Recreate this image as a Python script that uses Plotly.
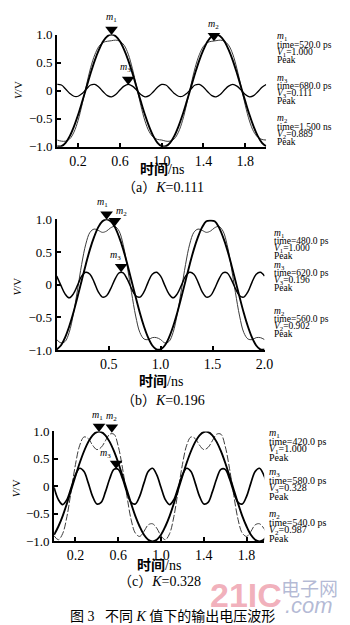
import plotly.graph_objects as go

# ---------------- data ----------------
time_ns = [0.00, 0.04, 0.08, 0.12, 0.16, 0.20, 0.24, 0.28, 0.32, 0.36, 0.40, 0.44, 0.48,
           0.52, 0.56, 0.60, 0.64, 0.68, 0.72, 0.76, 0.80, 0.84, 0.88, 0.92, 0.96, 1.00,
           1.04, 1.08, 1.12, 1.16, 1.20, 1.24, 1.28, 1.32, 1.36, 1.40, 1.44, 1.48, 1.52,
           1.56, 1.60, 1.64, 1.68, 1.72, 1.76, 1.80, 1.84, 1.88, 1.92, 1.96, 2.00]

# (a) K = 0.111
fund_a = [-0.99, -0.99, -0.93, -0.81, -0.64, -0.43, -0.19, 0.06, 0.31, 0.54, 0.73, 0.88, 0.97,
          1.00, 0.97, 0.88, 0.73, 0.54, 0.31, 0.06, -0.19, -0.43, -0.64, -0.81, -0.93,
          -0.99, -0.99, -0.93, -0.81, -0.64, -0.43, -0.19, 0.06, 0.31, 0.54, 0.73, 0.88, 0.97,
          1.00, 0.97, 0.88, 0.73, 0.54, 0.31, 0.06, -0.19, -0.43, -0.64, -0.81, -0.93, -0.99]
harm_a = [0.11, 0.10, 0.03, -0.05, -0.10, -0.10, -0.05, 0.03, 0.10, 0.11, 0.06, -0.02, -0.09,
          -0.11, -0.07, 0.01, 0.08, 0.11, 0.08, 0.01, -0.07, -0.11, -0.09, -0.02, 0.06,
          0.11, 0.10, 0.03, -0.05, -0.10, -0.10, -0.05, 0.03, 0.10, 0.11, 0.06, -0.02, -0.09,
          -0.11, -0.07, 0.01, 0.08, 0.11, 0.08, 0.01, -0.07, -0.11, -0.09, -0.02, 0.06, 0.11]
sum_a = [-0.88, -0.90, -0.90, -0.86, -0.74, -0.53, -0.23, 0.10, 0.41, 0.64, 0.79, 0.86, 0.88,
         0.89, 0.90, 0.88, 0.81, 0.65, 0.39, 0.07, -0.26, -0.54, -0.73, -0.83, -0.87,
         -0.88, -0.90, -0.90, -0.86, -0.74, -0.53, -0.23, 0.10, 0.41, 0.64, 0.79, 0.86, 0.88,
         0.89, 0.90, 0.88, 0.81, 0.65, 0.39, 0.07, -0.26, -0.54, -0.73, -0.83, -0.87, -0.88]
mk_time_a = [0.52, 1.50, 0.68]
mk_val_a = [1.000, 0.889, 0.111]

# (b) K = 0.196
fund_b = [-0.99, -0.93, -0.81, -0.64, -0.43, -0.19, 0.06, 0.31, 0.54, 0.73, 0.88, 0.97, 1.00,
          0.97, 0.88, 0.73, 0.54, 0.31, 0.06, -0.19, -0.43, -0.64, -0.81, -0.93, -0.99,
          -0.99, -0.93, -0.81, -0.64, -0.43, -0.19, 0.06, 0.31, 0.54, 0.73, 0.88, 0.97, 0.98,
          0.97, 0.88, 0.73, 0.54, 0.31, 0.06, -0.19, -0.43, -0.64, -0.81, -0.93, -0.99, -0.99]
harm_b = [0.13, -0.01, -0.14, -0.20, -0.14, -0.01, 0.13, 0.19, 0.16, 0.04, -0.11, -0.19, -0.17,
          -0.06, 0.08, 0.18, 0.18, 0.08, -0.06, -0.17, -0.19, -0.11, 0.04, 0.16, 0.19,
          0.13, -0.01, -0.14, -0.20, -0.14, -0.01, 0.13, 0.19, 0.16, 0.04, -0.11, -0.19, -0.17,
          -0.06, 0.08, 0.18, 0.18, 0.08, -0.06, -0.17, -0.19, -0.11, 0.04, 0.16, 0.19, 0.13]
sum_b = [-0.84, -0.89, -0.87, -0.73, -0.45, -0.08, 0.31, 0.62, 0.80, 0.85, 0.83, 0.80, 0.82,
         0.87, 0.89, 0.82, 0.61, 0.27, -0.12, -0.48, -0.73, -0.83, -0.84, -0.81, -0.81,
         -0.84, -0.89, -0.87, -0.73, -0.45, -0.08, 0.31, 0.62, 0.80, 0.85, 0.83, 0.80, 0.82,
         0.87, 0.89, 0.82, 0.61, 0.27, -0.12, -0.48, -0.73, -0.83, -0.84, -0.81, -0.81, -0.84]
mk_time_b = [0.48, 0.56, 0.62]
mk_val_b = [1.000, 0.902, 0.196]

# (c) K = 0.328
fund_c = [-0.88, -0.73, -0.54, -0.31, -0.06, 0.19, 0.43, 0.64, 0.81, 0.93, 0.99, 0.99, 0.93,
          0.81, 0.64, 0.43, 0.19, -0.06, -0.31, -0.54, -0.73, -0.88, -0.97, -1.00, -0.97,
          -0.88, -0.73, -0.54, -0.31, -0.06, 0.19, 0.43, 0.64, 0.81, 0.93, 0.99, 0.99, 0.93,
          0.81, 0.64, 0.43, 0.19, -0.06, -0.31, -0.54, -0.73, -0.88, -0.97, -1.00, -0.97, -0.88]
harm_c = [-0.02, -0.24, -0.33, -0.24, -0.02, 0.21, 0.33, 0.27, 0.06, -0.18, -0.32, -0.29, -0.10,
          0.14, 0.31, 0.31, 0.14, -0.10, -0.29, -0.32, -0.18, 0.06, 0.27, 0.33, 0.21,
          -0.02, -0.24, -0.33, -0.24, -0.02, 0.21, 0.33, 0.27, 0.06, -0.18, -0.32, -0.29, -0.10,
          0.14, 0.31, 0.31, 0.14, -0.10, -0.29, -0.32, -0.18, 0.06, 0.27, 0.33, 0.21, -0.02]
sum_c = [-0.90, -0.97, -0.86, -0.55, -0.08, 0.40, 0.75, 0.90, 0.87, 0.75, 0.67, 0.71, 0.83,
         0.95, 0.95, 0.73, 0.33, -0.16, -0.60, -0.85, -0.91, -0.82, -0.70, -0.68, -0.76,
         -0.90, -0.97, -0.86, -0.55, -0.08, 0.40, 0.75, 0.90, 0.87, 0.75, 0.67, 0.71, 0.83,
         0.95, 0.95, 0.73, 0.33, -0.16, -0.60, -0.85, -0.91, -0.82, -0.70, -0.68, -0.76, -0.90]
mk_time_c = [0.42, 0.54, 0.58]
mk_val_c = [1.000, 0.987, 0.328]

marker_names = ["1", "2", "3"]
readout_order = [0, 2, 1]          # m1, m3, m2 listed top to bottom
k_values = ["0.111", "0.196", "0.328"]
panel_letters = ["a", "b", "c"]

y_tick_vals = [-1.0, -0.5, 0.0, 0.5, 1.0]
y_tick_text = ["\u22121.0", "\u22120.5", "0", "0.5", "1.0"]
x_tick_vals_ac = [0.2, 0.6, 1.0, 1.4, 1.8]
x_tick_text_ac = ["0.2", "0.6", "1.0", "1.4", "1.8"]
x_tick_vals_b = [0.5, 1.0, 1.5, 2.0]
x_tick_text_b = ["0.5", "1.0", "1.5", "2.0"]

# ---------------- layout helpers (pixels of the 350x625 page) ----------------
W, H = 350, 625
def px_x(x):
    return x / W
def px_y(y):
    return 1 - y / H

SERIF = "Liberation Serif, Noto Sans CJK SC"

panels = [
    dict(t=time_ns, f=fund_a, h=harm_a, s=sum_a, mt=mk_time_a, mv=mk_val_a,
         xdom=(50.5, 265), ydom=(20, 135), xr=[0, 2.0], xtv=x_tick_vals_ac, xtt=x_tick_text_ac,
         sum_dash="solid", harm_w=1.3,
         lab_shift=[(0, 17), (0, 16), (-3, 17)],
         ro_x=275, ro_y=[22.5, 65, 106.5], ro_pitch=7.8, ro_size=9.5,
         xt=(158, 158), cap=(159, 176.5), yt=(10, 77)),
    dict(t=time_ns, f=fund_b, h=harm_b, s=sum_b, mt=mk_time_b, mv=mk_val_b,
         xdom=(50, 263.3), ydom=(209.3, 343.3), xr=[0, 2.0], xtv=x_tick_vals_b, xtt=x_tick_text_b,
         sum_dash="solid", harm_w=1.5,
         lab_shift=[(-4, 17), (7, 14), (-6, 16)],
         ro_x=272, ro_y=[224, 257, 304], ro_pitch=7.5, ro_size=9.5,
         xt=(157, 376), cap=(159, 395), yt=(9.5, 278)),
    dict(t=time_ns, f=fund_c, h=harm_c, s=sum_c, mt=mk_time_c, mv=mk_val_c,
         xdom=(47.3, 263), ydom=(426.7, 539.3), xr=[0, 1.965], xtv=x_tick_vals_ac, xtt=x_tick_text_ac,
         sum_dash="7px,2px", harm_w=1.7,
         lab_shift=[(-2, 16), (0, 16), (-11, 15)],
         ro_x=267, ro_y=[429, 468.5, 512], ro_pitch=8.2, ro_size=10,
         xt=(155, 564), cap=(155, 580), yt=(9, 485)),
]

fig = go.Figure()
annotations = []
layout_axes = {}

def centered(x_px, y_px, text, font, **kw):
    d = dict(x=px_x(x_px), y=px_y(y_px), xref="paper", yref="paper",
             xanchor="center", yanchor="middle", text=text, showarrow=False,
             borderpad=0, font=font)
    d.update(kw)
    return d

for i, p in enumerate(panels):
    sfx = "" if i == 0 else str(i + 1)
    xa, ya = "x" + sfx, "y" + sfx
    # curves
    fig.add_trace(go.Scatter(x=p["t"], y=p["s"], mode="lines", xaxis=xa, yaxis=ya,
                             line=dict(color="#3c3c3c", width=1.0, dash=p["sum_dash"], shape="spline")))
    fig.add_trace(go.Scatter(x=p["t"], y=p["h"], mode="lines", xaxis=xa, yaxis=ya,
                             line=dict(color="black", width=p["harm_w"], shape="spline")))
    fig.add_trace(go.Scatter(x=p["t"], y=p["f"], mode="lines", xaxis=xa, yaxis=ya,
                             line=dict(color="black", width=1.9, shape="spline")))
    # peak markers (downward triangles standing on the marked points)
    fig.add_trace(go.Scatter(x=p["mt"], y=p["mv"], mode="markers", xaxis=xa, yaxis=ya,
                             cliponaxis=False,
                             marker=dict(symbol="triangle-up", angle=180, size=11, color="black",
                                         standoff=5)))
    for j in range(3):
        dx, dy = p["lab_shift"][j]
        annotations.append(dict(x=p["mt"][j], y=p["mv"][j], xref=xa, yref=ya,
                                xanchor="center", yanchor="middle",
                                text="<i>m</i><sub>%s</sub>" % marker_names[j],
                                showarrow=False, xshift=dx, yshift=dy, borderpad=0,
                                font=dict(family=SERIF, size=10, color="black")))
    # axes
    xd = [px_x(p["xdom"][0]), px_x(p["xdom"][1])]
    yd = [px_y(p["ydom"][1]), px_y(p["ydom"][0])]
    layout_axes["xaxis" + sfx] = dict(domain=xd, range=p["xr"], anchor=ya,
                                      tickvals=p["xtv"], ticktext=p["xtt"],
                                      ticks="inside", ticklen=4, tickwidth=1.5, tickcolor="black",
                                      showline=True, linewidth=2, linecolor="black",
                                      showgrid=False, zeroline=False,
                                      tickfont=dict(family=SERIF, size=14, color="black"))
    layout_axes["yaxis" + sfx] = dict(domain=yd, range=[-1.0, 1.0], anchor=xa,
                                      tickvals=y_tick_vals, ticktext=y_tick_text,
                                      ticks="inside", ticklen=4, tickwidth=1.5, tickcolor="black",
                                      showline=True, linewidth=2, linecolor="black",
                                      showgrid=False, zeroline=False,
                                      tickfont=dict(family=SERIF, size=13, color="black"))
    # marker read-outs at right
    for b, j in enumerate(readout_order):
        t = p["mt"][j]
        tstr = ("time=%.1f ps" % (t * 1000)) if t < 1 else ("time=%.3f ns" % t)
        lines = ["<i>m</i><sub>%s</sub>" % marker_names[j], tstr,
                 "<i>V</i><sub>%s</sub>=%.3f" % (marker_names[j], p["mv"][j]), "Peak"]
        for li, txt in enumerate(lines):
            annotations.append(dict(x=px_x(p["ro_x"]), y=px_y(p["ro_y"][b] + li * p["ro_pitch"]),
                                    xref="paper", yref="paper", xanchor="left", yanchor="middle",
                                    text=txt, showarrow=False, borderpad=0,
                                    font=dict(family=SERIF, size=p["ro_size"], color="black")))
    # titles
    annotations.append(centered(p["xt"][0], p["xt"][1], "<b>时间</b>/ns",
                                dict(family=SERIF, size=14, color="black")))
    annotations.append(centered(p["cap"][0], p["cap"][1],
                                "（%s）<i>K</i>=%s" % (panel_letters[i], k_values[i]),
                                dict(family=SERIF, size=14, color="black")))
    annotations.append(centered(p["yt"][0], p["yt"][1], "<i>V</i>/V",
                                dict(family=SERIF, size=11, color="black"), textangle=-90))

# watermark and figure caption
annotations.append(centered(244, 594, "<b>21IC</b>",
                            dict(family="Liberation Sans", size=34, color="rgba(230,110,130,0.55)")))
annotations.append(centered(309, 587, "电子网",
                            dict(family="Noto Sans CJK SC", size=19, color="rgba(130,140,185,0.6)")))
annotations.append(centered(309, 605, "<i>.com</i>",
                            dict(family="Liberation Sans", size=22, color="rgba(130,140,185,0.6)")))
annotations.append(centered(169, 616, "图 3\u00a0\u00a0\u00a0不同 <i>K</i> 值下的输出电压波形",
                            dict(family=SERIF, size=14, color="black")))

fig.update_layout(width=W, height=H, margin=dict(l=0, r=0, t=0, b=0),
                  paper_bgcolor="white", plot_bgcolor="white", showlegend=False,
                  annotations=annotations, **layout_axes)

fig.write_html("out.html")
